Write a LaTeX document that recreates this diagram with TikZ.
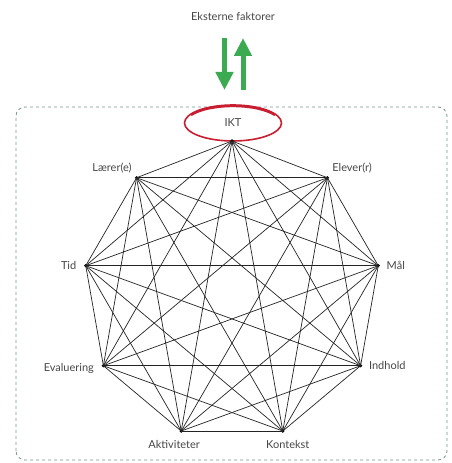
\documentclass[tikz,border=0pt]{standalone}
\usepackage{fontspec}
\setmainfont{Lato}
\usetikzlibrary{positioning,arrows.meta,shapes.geometric,calc}
\definecolor{iktred}{RGB}{200,30,50}
\definecolor{extgreen}{RGB}{60,170,80}
\definecolor{framegray}{RGB}{120,150,140}
\definecolor{edgegray}{RGB}{35,35,35}
\definecolor{labelgray}{RGB}{70,70,70}

\begin{document}
\begin{tikzpicture}[
      x=1pt, y=1pt,
      font=\fontsize{11}{13}\selectfont, text=labelgray,
      dot/.style={
        circle, fill=black, inner sep=0pt, minimum size=3.5pt,
        label distance=2pt
      },
      edge/.style={draw=edgegray, line width=0.7pt},
      ext/.style={-{Triangle[width=17pt,length=18pt]}, line width=5pt, extgreen}
    ]
      \useasboundingbox (0,0) rectangle (451,463);
      % frame
      \draw[framegray, line width=0.8pt, dash pattern=on 3pt off 3pt,
        rounded corners=9pt] (16,3) rectangle (447,356);
      % outside
      \node (ext) at (233,447) {Eksterne faktorer};
      \coordinate (dtop) at (224.5,425);
      \coordinate (dbot) at (224.5,373);
      \coordinate (utop) at (243,425);
      \coordinate (ubot) at (243,373);
      \draw[ext] (dtop) -- (dbot);
      \draw[ext] (ubot) -- (utop);
      % IKT
      \fill[white] (233,340) ellipse[x radius=48.5, y radius=18];
      \node (iktring) at (233,340) {IKT};
      \draw[iktred, line width=1.6pt] (iktring.center) ellipse[x radius=48.5, y radius=18];
      \draw[iktred, line width=2.4pt]
        ($(iktring.center)+({48.5*cos(150)},{18*sin(150)-1})$)
        arc[start angle=150, end angle=30, x radius=48.5, y radius=18];
      \coordinate (c) at (232,171.5);
      \node[dot] (ikt) at (232,322) {};
      \node[dot, label={[anchor=south east]above left:Lærer(e)}] (laerer) at ($(c)+(130:148.5)$) {};
      \node[dot, label={[anchor=south west]above right:Elever(r)}] (elever) at ($(c)+(50:148.5)$) {};
      \node[dot, label={[label distance=4pt]left:Tid}] (tid) at ($(c)+(170:148.5)$) {};
      \node[dot, label={[label distance=3pt]right:Mål}] (maal) at ($(c)+(10:148.5)$) {};
      \node[dot, label={[anchor=east, yshift=-3pt, label distance=4pt]left:Evaluering}] (eval) at ($(c)+(210:148.5)$) {};
      \node[dot, label={[label distance=3pt]right:Indhold}] (indhold) at ($(c)+(-30:148.5)$) {};
      \node[dot, label={[xshift=-7pt, label distance=4pt]below:Aktiviteter}] (aktiv) at ($(c)+(-110:148.5)$) {};
      \node[dot, label={[xshift=5pt, label distance=4pt]below:Kontekst}] (kontekst) at ($(c)+(-70:148.5)$) {};
      % all pairs
      \foreach \a/\i in {ikt/1,elever/2,maal/3,indhold/4,kontekst/5,aktiv/6,eval/7,tid/8,laerer/9}
        \foreach \b/\j in {ikt/1,elever/2,maal/3,indhold/4,kontekst/5,aktiv/6,eval/7,tid/8,laerer/9}
          {\ifnum\i<\j \draw[edge] (\a.center) -- (\b.center);\fi}
    \end{tikzpicture}
\end{document}
